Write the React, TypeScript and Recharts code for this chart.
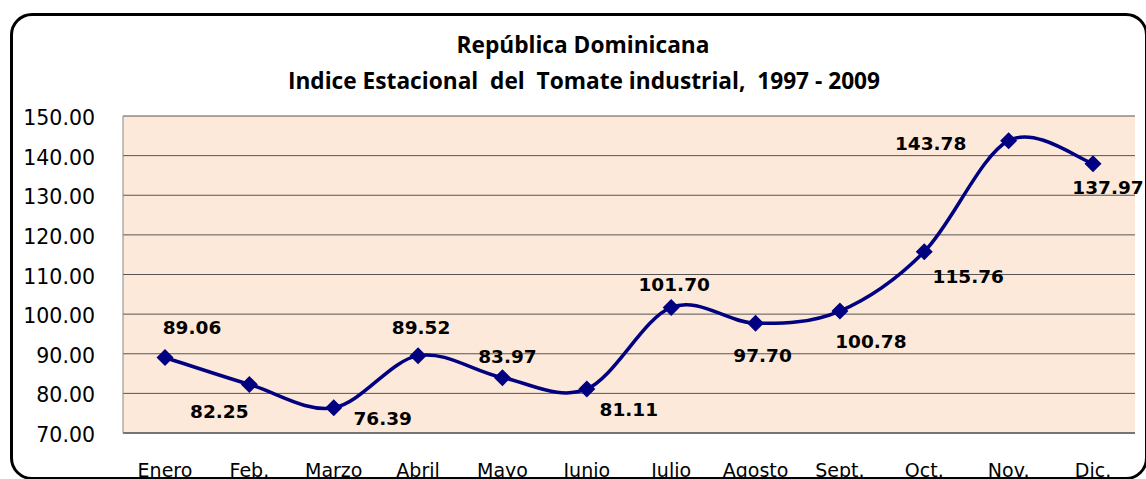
import React from 'react';
import { LineChart, Line, XAxis, YAxis, CartesianGrid } from 'recharts';

const months = ['Enero', 'Feb.', 'Marzo', 'Abril', 'Mayo', 'Junio', 'Julio', 'Agosto', 'Sept.', 'Oct.', 'Nov.', 'Dic.'];
const indexValues = [89.06, 82.25, 76.39, 89.52, 83.97, 81.11, 101.7, 97.7, 100.78, 115.76, 143.78, 137.97];
const yTicks = [70, 80, 90, 100, 110, 120, 130, 140, 150];

const title1 = 'República Dominicana';
const title2 = 'Indice Estacional  del  Tomate industrial,  1997 - 2009';

// label placement relative to marker (dx, dy)
const labelOffsets: [number, number][] = [
  [27, -30], [-30, 27], [49, 11], [3, -28], [5, -21], [42, 21],
  [3, -23], [7, 32], [31, 30], [44, 25], [-78, 3], [15, 24],
];

const data = months.map((m, i) => ({ month: m, value: indexValues[i] }));

// Excel-like smoothed line (Catmull-Rom bezier)
const excelCurve: any = (context: any) => {
  let pts: number[][] = [];
  return {
    areaStart() {},
    areaEnd() {},
    lineStart() {
      pts = [];
    },
    point(x: number, y: number) {
      pts.push([+x, +y]);
    },
    lineEnd() {
      if (!pts.length) return;
      context.moveTo(pts[0][0], pts[0][1]);
      for (let i = 0; i < pts.length - 1; i++) {
        const p0 = pts[i - 1] || pts[i];
        const p1 = pts[i];
        const p2 = pts[i + 1];
        const p3 = pts[i + 2] || pts[i + 1];
        const c1x = p1[0] + (p2[0] - p0[0]) / 6;
        const c1y = p1[1] + (p2[1] - p0[1]) / 6;
        const c2x = p2[0] - (p3[0] - p1[0]) / 6;
        const c2y = p2[1] - (p3[1] - p1[1]) / 6;
        context.bezierCurveTo(c1x, c1y, c2x, c2y, p2[0], p2[1]);
      }
    },
  };
};

const Diamond = (props: any) => {
  const { cx, cy, index } = props;
  if (cx == null || cy == null) return null;
  const r = 8.5;
  return (
    <path
      key={`d-${index}`}
      d={`M${cx},${cy - r}L${cx + r},${cy}L${cx},${cy + r}L${cx - r},${cy}Z`}
      fill="#000080"
      stroke="none"
    />
  );
};

const ValueLabel = (props: any) => {
  const { x, y, value, index } = props;
  const off = labelOffsets[index] || [0, -20];
  return (
    <text
      key={`l-${index}`}
      x={x + off[0]}
      y={y + off[1]}
      textAnchor="middle"
      dominantBaseline="central"
      fontFamily="DejaVu Sans"
      fontWeight="bold"
      fontSize={18.5}
      fill="#000"
    >
      {Number(value).toFixed(2)}
    </text>
  );
};

const YTick = (props: any) => {
  const { y, payload } = props;
  return (
    <text x={95} y={y + 2} textAnchor="end" dominantBaseline="central" fontFamily="DejaVu Sans" fontSize={20.5} fill="#000">
      {Number(payload.value).toFixed(2)}
    </text>
  );
};

const XTick = (props: any) => {
  const { x, payload } = props;
  return (
    <text x={x} y={477} textAnchor="middle" fontFamily="DejaVu Sans" fontSize={19} fill="#000">
      {payload.value}
    </text>
  );
};

export default function App() {
  return (
    <div style={{ position: 'absolute', left: 0, top: 0, width: 1146, height: 479, background: '#fff', overflow: 'hidden' }}>
      <div
        style={{
          position: 'absolute',
          left: 10,
          top: 13,
          width: 1138,
          height: 467,
          border: '3.5px solid #000',
          borderRadius: 22,
          boxSizing: 'border-box',
        }}
      />
      <svg width={1146} height={479} style={{ position: 'absolute', left: 0, top: 0 }}>
        <text x={583} y={44} textAnchor="middle" dominantBaseline="central" fontFamily="Open Sans" fontWeight="bold" fontSize={22.7} fill="#000">
          {title1}
        </text>
        <text x={584} y={80} textAnchor="middle" dominantBaseline="central" fontFamily="Open Sans" fontWeight="bold" fontSize={22.7} fill="#000" style={{ whiteSpace: 'pre' }}>
          {title2}
        </text>
      </svg>
      <div style={{ position: 'absolute', left: 0, top: 0 }}>
        <LineChart width={1146} height={479} data={data} margin={{ top: 116, right: 11, bottom: 16, left: 0 }}>
          <CartesianGrid vertical={false} stroke="#555" strokeWidth={1} fill="#FDE9D9" />
          <XAxis
            dataKey="month"
            height={30}
            padding={{ left: 42, right: 42 }}
            axisLine={{ stroke: '#666', strokeWidth: 1.5 }}
            tickLine={false}
            tick={<XTick />}
            interval={0}
          />
          <YAxis
            width={123}
            domain={[70, 150]}
            ticks={yTicks}
            axisLine={{ stroke: '#888', strokeWidth: 1 }}
            tickLine={false}
            tick={<YTick />}
            interval={0}
          />
          <Line
            dataKey="value"
            type={excelCurve}
            stroke="#000080"
            strokeWidth={3.5}
            dot={Diamond}
            activeDot={false}
            label={ValueLabel}
            isAnimationActive={false}
          />
        </LineChart>
      </div>
    </div>
  );
}
